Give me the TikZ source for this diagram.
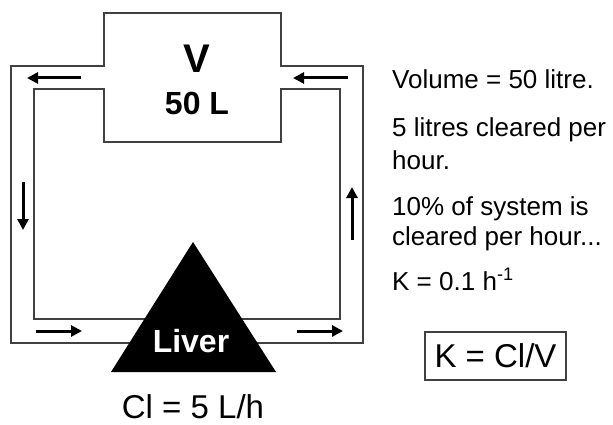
\documentclass[tikz,border=0pt]{standalone}
\usepackage{fontspec}
\setmainfont{Liberation Sans}
\usetikzlibrary{positioning,arrows.meta}

\tikzset{
  wall/.style={draw=black!75, line width=1.1pt},
  flow/.style={line width=3pt, -{Triangle[length=11pt,width=11pt]}},
  note/.style={anchor=base west, inner sep=0pt, font=\fontsize{26}{31}\selectfont},
  big/.style={anchor=base, inner sep=0pt},
}

\begin{document}
\begin{tikzpicture}[x=1pt,y=-1pt]
			\useasboundingbox (0,0) rectangle (613,425);
			% circulation with the volume box on top
			\draw[wall] (11,343) -- (11,66) -- (104,66) -- (104,13) -- (281,13) -- (281,66) -- (363,66) -- (363,343) -- cycle;
			\draw[wall] (34,89) -- (104,89) -- (104,142) -- (281,142) -- (281,89) -- (340,89) -- (340,319) -- (34,319) -- cycle;
			\node[big, font=\bfseries\fontsize{40}{40}\selectfont] (vol) at (197,73) {V};
			\node[big, font=\bfseries\fontsize{32}{32}\selectfont] (vollit) at (197,115) {50 L};
			% liver
			\fill (193,242) -- (276,372) -- (111,372) -- cycle;
			\node[big, text=white, font=\bfseries\fontsize{32}{32}\selectfont] (liver) at (191,352) {Liver};
			\node[big, font=\fontsize{33}{33}\selectfont] (clear) at (193,418) {Cl = 5 L/h};
			% flow arrows
			\coordinate (tla) at (81,78);   \coordinate (tlb) at (27,78);
			\coordinate (tra) at (348,78);  \coordinate (trb) at (293,78);
			\coordinate (lfa) at (23,182);  \coordinate (lfb) at (23,230);
			\coordinate (rta) at (352,240); \coordinate (rtb) at (352,187);
			\coordinate (bla) at (36,331);  \coordinate (blb) at (82,331);
			\coordinate (bra) at (297,331); \coordinate (brb) at (343,331);
			\foreach \s/\e in {tla/tlb,tra/trb,lfa/lfb,rta/rtb,bla/blb,bra/brb}
			\draw[flow] (\s) -- (\e);
			% notes
			\node[note] (n1) at (392,89) {Volume = 50 litre.};
			\node[note] (n2) at (392,137) {5 litres cleared per};
			\node[note] (n3) at (392,169) {hour.};
			\node[note] (n4) at (392,215) {10\% of system is};
			\node[note] (n5) at (392,245) {cleared per hour...};
			\node[note] (n6) at (392,290) {K = 0.1 h\textsuperscript{-1}};
			\node[wall, minimum width=141pt, minimum height=48pt, inner sep=0pt, font=\fontsize{33}{33}\selectfont] (kform) at (495.5,356) {K = Cl/V};
\end{tikzpicture}
\end{document}
